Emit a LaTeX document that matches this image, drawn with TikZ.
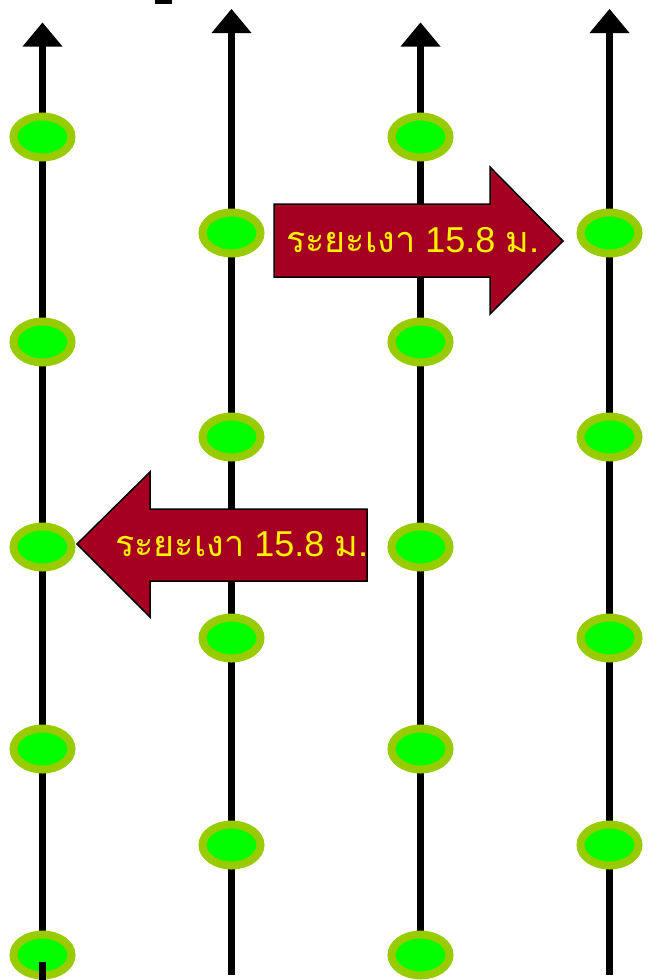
\documentclass[tikz,border=0pt]{standalone}
\usepackage{fontspec}
\setmainfont{Liberation Sans}
\newfontfamily\thaifont[Script=Thai]{Loma}
\usetikzlibrary{shapes.geometric}
\definecolor{ringc}{HTML}{99CC00}
\definecolor{fillc}{HTML}{00FF00}
\definecolor{arrowc}{HTML}{A50021}
\tikzset{
  pole/.style={line width=7.5pt, black},
  headtri/.style={fill=black, draw=none},
  plant/.style={ellipse, draw=ringc, fill=fillc, line width=8pt, minimum width=58pt, minimum height=41pt, inner sep=0pt},
  bigarrow/.style={fill=arrowc, draw=black, line width=1.5pt, line join=miter},
  arrowtext/.style={text=yellow, font=\fontsize{36}{40}\selectfont, inner sep=0pt}
}
\begin{document}
\begin{tikzpicture}[x=1pt, y=-1pt]
\useasboundingbox (0,0) rectangle (664,980);
% fragment at top
\fill[black] (155,0) rectangle (172,4);
% poles
\coordinate (t1) at (42.5,46); \coordinate (b1) at (42.5,932);
\coordinate (t2) at (231.5,32); \coordinate (b2) at (231.5,975);
\coordinate (t3) at (420.5,46); \coordinate (b3) at (420.5,932);
\coordinate (t4) at (609.5,32); \coordinate (b4) at (609.5,975);
\draw[pole] (t1) -- (b1);
\draw[pole] (t2) -- (b2);
\draw[pole] (t3) -- (b3);
\draw[pole] (t4) -- (b4);
\fill[headtri] (42.5,22.5) -- (62.5,46.5) -- (22.5,46.5) -- cycle;
\fill[headtri] (231.5,9) -- (251.5,33) -- (211.5,33) -- cycle;
\fill[headtri] (420.5,22.5) -- (440.5,46.5) -- (400.5,46.5) -- cycle;
\fill[headtri] (609.5,9) -- (629.5,33) -- (589.5,33) -- cycle;
% plants
\node[plant] (a1) at (42.5,137) {};
\node[plant] (a2) at (42.5,342) {};
\node[plant] (a3) at (42.5,547) {};
\node[plant] (a4) at (42.5,749) {};
\node[plant] (a5) at (42.5,955) {};
\node[plant] (b1p) at (231.5,233) {};
\node[plant] (b2p) at (231.5,437) {};
\node[plant] (b3p) at (231.5,638) {};
\node[plant] (b4p) at (231.5,845) {};
\node[plant] (c1) at (420.5,137) {};
\node[plant] (c2) at (420.5,342) {};
\node[plant] (c3) at (420.5,547) {};
\node[plant] (c4) at (420.5,749) {};
\node[plant] (c5) at (420.5,955) {};
\node[plant] (d1) at (609.5,233) {};
\node[plant] (d2) at (609.5,437) {};
\node[plant] (d3) at (609.5,638) {};
\node[plant] (d4) at (609.5,845) {};
% stub over bottom plant
\coordinate (s1) at (42.5,962);
\coordinate (s2) at (42.5,980);
\draw[pole] (s1) -- (s2);
% arrows
\draw[bigarrow] (274,204) -- (490,204) -- (490,167) -- (563,241) -- (490,314) -- (490,277) -- (274,277) -- cycle;
\node[arrowtext, anchor=west] (rt) at (286,240) {{\thaifont ระยะเงา} 15.8 {\thaifont ม.}};
\draw[bigarrow] (77,544) -- (150,472) -- (150,509) -- (367,509) -- (367,581) -- (150,581) -- (150,617) -- cycle;
\node[arrowtext, anchor=west] (lt) at (115,544) {{\thaifont ระยะเงา} 15.8 {\thaifont ม.}};
\end{tikzpicture}
\end{document}
